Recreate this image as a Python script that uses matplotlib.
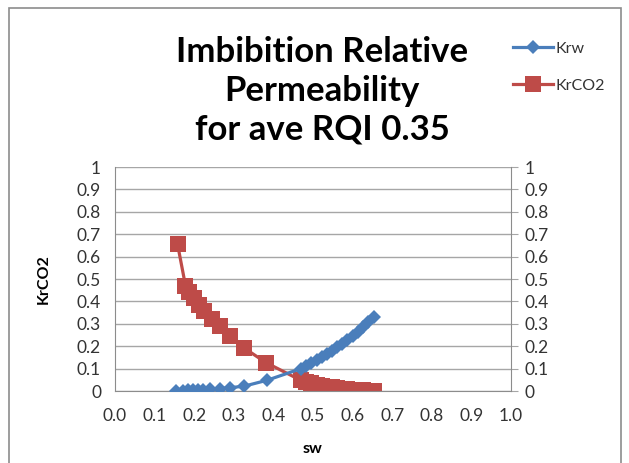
import matplotlib
matplotlib.use("Agg")
import matplotlib.pyplot as plt
from matplotlib.patches import Rectangle

# ===== data =====
sw_krw = [0.155, 0.172, 0.185, 0.197, 0.210, 0.222, 0.240, 0.265, 0.290, 0.325, 0.384,
          0.470, 0.483, 0.496, 0.509, 0.522, 0.535, 0.548, 0.561, 0.574, 0.587,
          0.600, 0.613, 0.626, 0.639, 0.655]
krw = [0.001, 0.002, 0.003, 0.004, 0.005, 0.006, 0.008, 0.011, 0.015, 0.021, 0.048,
       0.100, 0.112, 0.125, 0.138, 0.151, 0.165, 0.180, 0.195, 0.211, 0.228,
       0.246, 0.265, 0.285, 0.306, 0.330]

sw_co2 = [0.158, 0.178, 0.188, 0.199, 0.212, 0.226, 0.245, 0.265, 0.290, 0.326, 0.381,
          0.470, 0.483, 0.496, 0.509, 0.522, 0.535, 0.548, 0.561, 0.574, 0.587,
          0.600, 0.613, 0.626, 0.639, 0.655]
krco2 = [0.655, 0.470, 0.440, 0.415, 0.385, 0.355, 0.320, 0.290, 0.245, 0.192, 0.127,
         0.047, 0.040, 0.034, 0.029, 0.024, 0.020, 0.016, 0.013, 0.010, 0.008,
         0.006, 0.004, 0.003, 0.002, 0.001]

x_ticks = [i / 10 for i in range(11)]
y_ticks = [i / 10 for i in range(11)]
y_ticklabels = ["0"] + [f"{v:.1f}" for v in y_ticks[1:-1]] + ["1"]

BLUE = "#4A7EBB"
RED = "#BE4B48"
TXT = "#333333"
GRID = "#A6A6A6"

plt.rcParams["font.family"] = ["Lato", "DejaVu Sans"]

W, H = 629, 463
fig = plt.figure(figsize=(W / 100, H / 100), dpi=100)
fig.patches.append(Rectangle((9 / W, -0.1), (621 - 9) / W, 1.1 - 8 / H,
                             transform=fig.transFigure, fill=False,
                             edgecolor="#8C8C8C", linewidth=1.2))

ax = fig.add_axes([115 / W, 1 - 391 / H, (511 - 115) / W, (391 - 167) / H])

ax.plot(sw_krw, krw, color=BLUE, lw=2.3, marker="D", markersize=7.6,
        markeredgewidth=0, label="Krw", zorder=3)
ax.plot(sw_co2, krco2, color=RED, lw=2.3, marker="s", markersize=11,
        markeredgewidth=0, label="KrCO2", zorder=2)

ax.set_xlim(0, 1)
ax.set_ylim(0, 1)
ax.set_xticks(x_ticks)
ax.set_xticklabels([f"{v:.1f}" for v in x_ticks])
ax.set_yticks(y_ticks)
ax.set_yticklabels(y_ticklabels)
ax.yaxis.grid(True, color=GRID, lw=1)
ax.set_axisbelow(True)

ax.tick_params(axis="x", length=0, labelsize=12.5, labelcolor=TXT, pad=12)
ax.tick_params(axis="y", left=False, right=True, labelleft=True, labelright=True,
               direction="out", length=5, color=GRID, labelsize=12.5,
               labelcolor=TXT, pad=5)
for side in ["left", "right", "bottom"]:
    ax.spines[side].set_color("#8C8C8C")
ax.spines["top"].set_visible(False)

ax.set_xlabel("sw", fontsize=11.5, fontweight="bold", labelpad=13)
ax.set_ylabel("KrCO2", fontsize=11.5, fontweight="bold", labelpad=19)

fig.text(322 / W, 1 - 91 / H, "Imbibition Relative\nPermeability\nfor ave RQI 0.35",
         ha="center", va="center", fontsize=25, fontweight="bold",
         linespacing=1.26)

fig.legend(loc="upper left", bbox_to_anchor=(499 / W, 1 - 27 / H), frameon=False,
           fontsize=11.5, handlelength=2.5, labelspacing=1.45, handletextpad=0.15,
           labelcolor=TXT)

fig.savefig("out.png", dpi=100)
